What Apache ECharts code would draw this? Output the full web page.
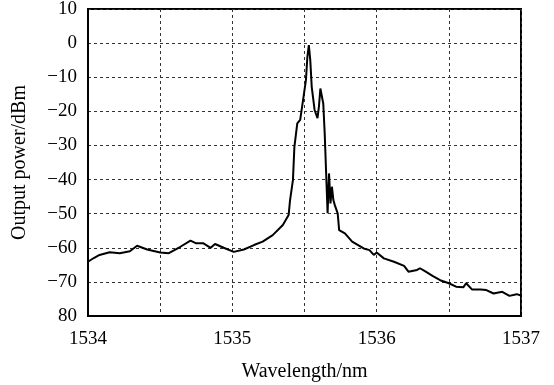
<!DOCTYPE html>
<html>
<head>
<meta charset="utf-8">
<script src="https://cdn.jsdelivr.net/npm/echarts@6/dist/echarts.min.js"></script>
<style>
  html, body { margin: 0; padding: 0; background: #fff; }
  #main { width: 554px; height: 385px; }
</style>
</head>
<body>
<div id="main"></div>
<script>
// wavelength (nm) and output power (dBm)
var wavelength = [
  1534.00, 1534.04, 1534.08, 1534.15, 1534.22, 1534.29, 1534.34, 1534.41, 1534.50, 1534.56,
  1534.64, 1534.71, 1534.75, 1534.80, 1534.85, 1534.88, 1534.94, 1535.01, 1535.08, 1535.15,
  1535.21, 1535.28, 1535.35, 1535.39, 1535.40, 1535.42, 1535.43, 1535.45, 1535.47, 1535.49,
  1535.51, 1535.52, 1535.53, 1535.54, 1535.55, 1535.57, 1535.59, 1535.60, 1535.61, 1535.62,
  1535.63, 1535.64, 1535.65, 1535.66, 1535.67, 1535.68, 1535.69, 1535.70, 1535.71, 1535.73,
  1535.74, 1535.78, 1535.83, 1535.91, 1535.95, 1535.98, 1536.00, 1536.05, 1536.12, 1536.19,
  1536.22, 1536.28, 1536.30, 1536.34, 1536.39, 1536.44, 1536.50, 1536.55, 1536.60, 1536.62,
  1536.66, 1536.72, 1536.76, 1536.81, 1536.87, 1536.92, 1536.97, 1537.00
];
var power = [
  -64.1, -63.0, -62.1, -61.3, -61.6, -61.0, -59.4, -60.5, -61.4, -61.6,
  -59.7, -57.9, -58.7, -58.7, -60.0, -58.9, -60.0, -61.2, -60.5, -59.2,
  -58.2, -56.3, -53.3, -50.4, -46.0, -40.1, -30.4, -23.5, -22.5, -16.7,
  -10.8, -4.0, -0.6, -5.0, -12.8, -19.6, -22.0, -18.6, -13.3, -12.8,
  -17.7, -26.5, -38.2, -49.9, -38.2, -47.0, -42.1, -46.0, -47.5, -49.9,
  -54.8, -55.8, -58.2, -60.2, -60.7, -62.1, -61.4, -63.1, -64.1, -65.3,
  -67.0, -66.5, -66.0, -67.0, -68.3, -69.5, -70.4, -71.4, -71.6, -70.4,
  -72.2, -72.2, -72.4, -73.4, -72.9, -74.1, -73.6, -74.0
];
var xTicks = [1534, 1535, 1536, 1537];
var yTickText = { '10': '10', '0': '0', '-80': '80' };

var points = wavelength.map(function (w, i) { return [w, power[i]]; });

var myChart = echarts.init(document.getElementById('main'));
var font = '"Liberation Serif", "Times New Roman", serif';
var grid = { type: [3, 3], color: '#333', width: 1 };

var option = {
  animation: false,
  backgroundColor: '#fff',
  grid: {
    left: 88, right: 33, top: 9, bottom: 69,
    outerBoundsMode: 'none', containLabel: false,
    show: true, borderColor: '#000', borderWidth: 2
  },
  xAxis: {
    type: 'value',
    min: 1534, max: 1537, interval: 0.5,
    name: 'Wavelength/nm',
    nameLocation: 'middle',
    nameGap: 46,
    nameTextStyle: { fontFamily: font, fontSize: 20, color: '#000' },
    axisLine: { onZero: false, lineStyle: { color: '#000', width: 2 } },
    axisTick: { show: false },
    axisLabel: {
      margin: 14, fontFamily: font, fontSize: 19, color: '#000',
      showMinLabel: true, showMaxLabel: true,
      formatter: function (v) { return xTicks.indexOf(v) >= 0 ? String(v) : ''; }
    },
    splitLine: { show: true, lineStyle: grid }
  },
  yAxis: {
    type: 'value',
    min: -80, max: 10, interval: 10,
    name: 'Output power/dBm',
    nameLocation: 'middle',
    nameGap: 58,
    nameTextStyle: { fontFamily: font, fontSize: 20, color: '#000' },
    axisLine: { show: true, onZero: false, lineStyle: { color: '#000', width: 2 } },
    axisTick: { show: false },
    axisLabel: {
      margin: 11, fontFamily: font, fontSize: 19, color: '#000',
      showMinLabel: true, showMaxLabel: true,
      formatter: function (v) {
        var k = String(v);
        return yTickText[k] !== undefined ? yTickText[k] : '\u2212' + Math.abs(v);
      }
    },
    splitLine: { show: true, lineStyle: grid }
  },
  series: [{
    type: 'line',
    data: points,
    showSymbol: false,
    lineStyle: { color: '#000', width: 2 }
  }]
};

option && myChart.setOption(option);
</script>
</body>
</html>
